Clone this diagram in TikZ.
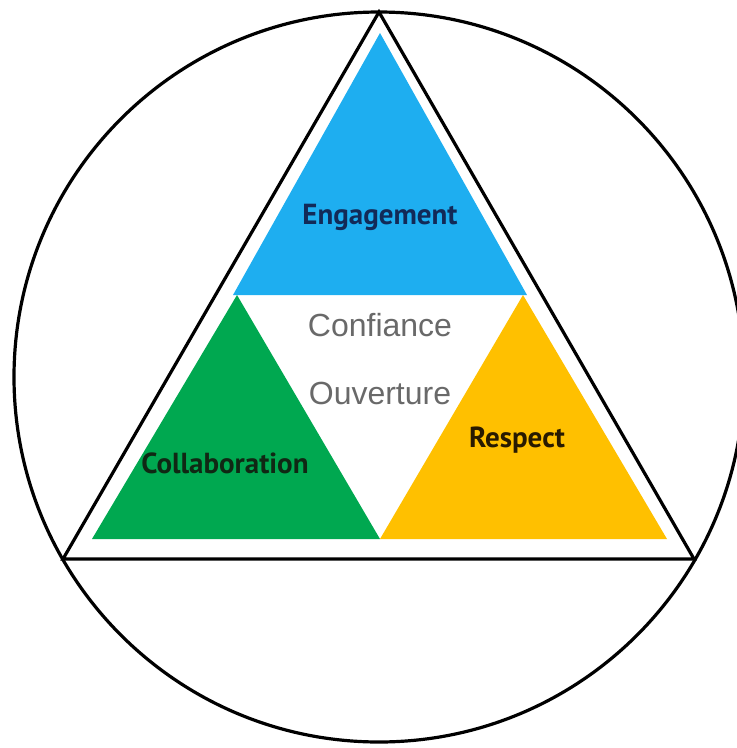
\documentclass[tikz,border=0pt]{standalone}
\usepackage{fontspec}
\setmainfont{Liberation Sans}
\newfontfamily\handfont{PT Sans}
\usetikzlibrary{positioning}
\definecolor{trblue}{RGB}{30,174,240}
\definecolor{trgreen}{RGB}{0,168,80}
\definecolor{trorange}{RGB}{255,192,0}
\definecolor{trgray}{RGB}{105,105,105}
\definecolor{trnavy}{RGB}{18,42,88}
\definecolor{trdkgreen}{RGB}{16,40,20}
\definecolor{trbrown}{RGB}{40,26,0}

\begin{document}
\begin{tikzpicture}[x=1pt, y=-1pt,
  handlabel/.style={font=\handfont\bfseries\fontsize{29}{34}\selectfont},
  corelabel/.style={font=\fontsize{32}{36}\selectfont, text=trgray}]
\useasboundingbox (0,0) rectangle (737,748);
% Outer circle and triangle
\coordinate (top) at (379,12);
\coordinate (bl) at (63,559);
\coordinate (br) at (694,559);
\draw[line width=3.2pt] (379,377) circle [radius=365pt];
\draw[line width=3.2pt, line join=miter] (top) -- (bl) -- (br) -- cycle;
% Inner triangles
\fill[trblue] (380,33) -- (233,295) -- (527,295) -- cycle;
\fill[trgreen] (237,295) -- (92,539) -- (380,539) -- cycle;
\fill[trorange] (523,295) -- (380,539) -- (667,539) -- cycle;
% Labels
\node[handlabel, text=trnavy] (engagement) at (380,217) {Engagement};
\node[handlabel, text=trdkgreen] (collaboration) at (225,463) {Collaboration};
\node[handlabel, text=trbrown] (respect) at (517,440) {Respect};
\node[corelabel] (confiance) at (380,325) {Confiance};
\node[corelabel] (ouverture) at (380,393) {Ouverture};
\end{tikzpicture}
\end{document}
